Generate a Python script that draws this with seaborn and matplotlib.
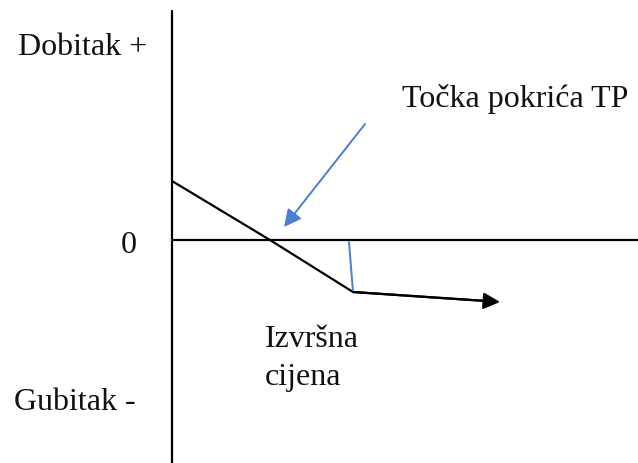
import matplotlib
matplotlib.use("Agg")
import matplotlib.pyplot as plt
import seaborn as sns
import pandas as pd

# payoff line (x in px from left, y relative to the zero line)
payoff_x = [172, 270, 353, 487]
payoff_y = [59, 0, -52, -61]
arrow_end = (500, -62)

# blue marker lines
strike_x = [349, 353]
strike_y = [-2, -52]
tp_arrow_start = (365, 116)
tp_arrow_end = (284, 13)

labels = ["Dobitak +", "0", "Gubitak -", "Točka pokrića TP", "Izvršna\ncijena"]

sns.set_theme(style="white")
plt.rcParams["font.family"] = ["Liberation Serif", "DejaVu Serif"]

fig = plt.figure(figsize=(6.38, 4.64), dpi=100)
ax = fig.add_axes([0, 0, 1, 1])
ax.set_xlim(0, 638)
ax.set_ylim(241 - 464, 241)
ax.axis("off")

# axes of the diagram
ax.plot([172, 172], [241 - 12, 241 - 470], color="black", lw=1.6)
ax.plot([172, 640], [0, 0], color="black", lw=1.6)

df = pd.DataFrame({"x": payoff_x, "y": payoff_y})
sns.lineplot(data=df, x="x", y="y", sort=False, color="black", lw=1.6, ax=ax)
ax.annotate("", xy=arrow_end, xytext=(payoff_x[-2], payoff_y[-2]),
            arrowprops=dict(arrowstyle="-|>", color="black", lw=1.6,
                            mutation_scale=25, shrinkA=0, shrinkB=0))

blue = "#4a7fd4"
ax.plot(strike_x, strike_y, color=blue, lw=1.4)
ax.annotate("", xy=tp_arrow_end, xytext=tp_arrow_start,
            arrowprops=dict(arrowstyle="-|>", color=blue, lw=1.4,
                            mutation_scale=26, shrinkA=0, shrinkB=0))

fs = 23
ax.text(18, 241 - 55, labels[0], fontsize=fs, va="baseline", color="#111111")
ax.text(121, 241 - 253, labels[1], fontsize=fs, va="baseline", color="#111111")
ax.text(14, 241 - 410, labels[2], fontsize=fs, va="baseline", color="#111111")
ax.text(402, 241 - 107, labels[3], fontsize=fs, va="baseline", color="#111111")
ax.text(265, 241 - 347, labels[4].split("\n")[0], fontsize=fs, va="baseline", color="#111111")
ax.text(265, 241 - 385, labels[4].split("\n")[1], fontsize=fs, va="baseline", color="#111111")

fig.savefig("out.png", dpi=100)
